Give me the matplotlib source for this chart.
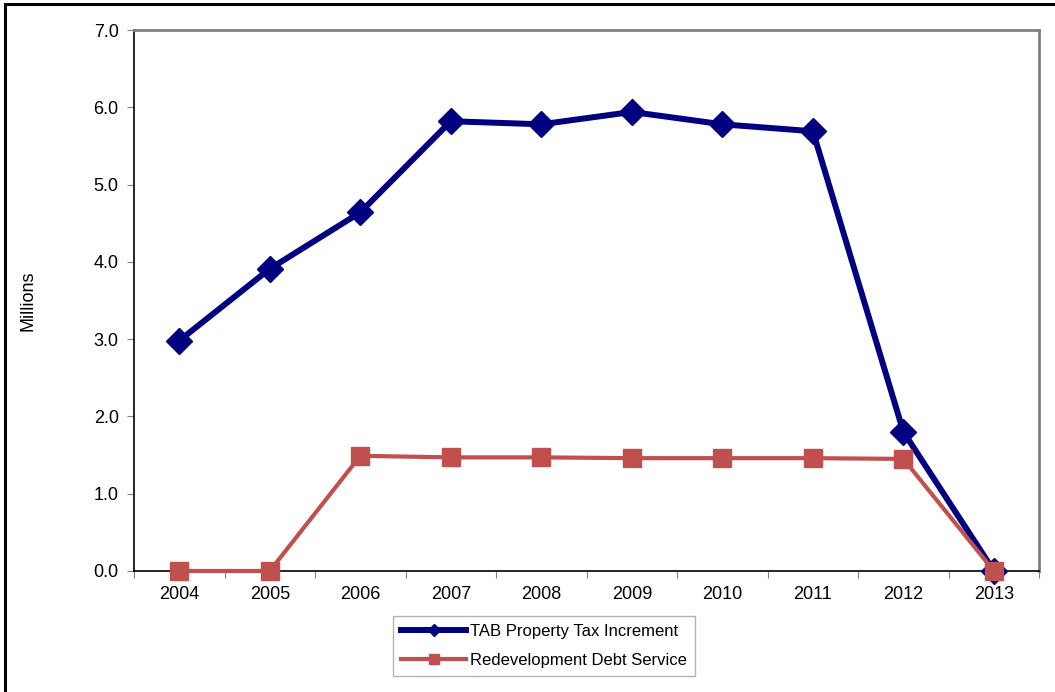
import matplotlib.pyplot as plt
from matplotlib.patches import Rectangle

plt.rcParams['font.family'] = ['Liberation Sans', 'DejaVu Sans']

years = ['2004', '2005', '2006', '2007', '2008', '2009', '2010', '2011', '2012', '2013']
tax_increment = [2.98, 3.91, 4.64, 5.82, 5.78, 5.94, 5.78, 5.69, 1.80, 0.0]
debt_service = [0.0, 0.0, 1.49, 1.47, 1.47, 1.46, 1.46, 1.46, 1.45, 0.0]
yticks = [0.0, 1.0, 2.0, 3.0, 4.0, 5.0, 6.0, 7.0]


def plot_tab():
    fig = plt.figure(figsize=(10.55, 6.92), dpi=100)
    ax = fig.add_axes([0.127, 0.1749, 0.858, 0.7817])

    x = range(len(years))
    ax.plot(x, tax_increment, color='#000080', linewidth=4.3,
            marker='D', markersize=13, label='TAB Property Tax Increment',
            zorder=3, clip_on=False)
    ax.plot(x, debt_service, color='#C0504D', linewidth=3,
            marker='s', markersize=13, label='Redevelopment Debt Service',
            zorder=4, clip_on=False)

    ax.set_xlim(-0.5, len(years) - 0.5)
    ax.set_ylim(0, 7)

    # tick marks sit between categories, labels under each category
    ax.set_xticks([i - 0.5 for i in range(len(years) + 1)])
    ax.set_xticklabels([])
    ax.set_xticks(list(x), minor=True)
    ax.set_xticklabels(years, minor=True, fontsize=13)
    ax.tick_params(axis='x', which='major', direction='out', length=5,
                   color='#808080')
    ax.tick_params(axis='x', which='minor', length=0, pad=11)

    ax.set_yticks(yticks)
    ax.set_yticklabels([f'{v:.1f}' for v in yticks], fontsize=13)
    ax.tick_params(axis='y', direction='out', length=5, color='#808080',
                   pad=6)

    ax.set_ylabel('Millions', fontsize=13, labelpad=41)

    for side in ['left', 'bottom']:
        ax.spines[side].set_color('black')
        ax.spines[side].set_linewidth(1.2)
    for side in ['top', 'right']:
        ax.spines[side].set_color('#808080')
        ax.spines[side].set_linewidth(2)

    leg = fig.legend(loc='center', bbox_to_anchor=(0.5156, 0.0665),
                     fontsize=12, frameon=True, fancybox=False,
                     handlelength=3.9, handletextpad=0.2, markerscale=0.5,
                     borderpad=0.5, labelspacing=0.85)
    leg.get_frame().set_edgecolor('#a0a0a0')
    leg.get_frame().set_linewidth(1)

    # outer chart border
    fig.patches.append(Rectangle((0.005, -0.01), 1.2, 1.004,
                                 transform=fig.transFigure, fill=False,
                                 edgecolor='black', linewidth=2.2))
    return fig


fig = plot_tab()
fig.savefig('out.png', dpi=100)
